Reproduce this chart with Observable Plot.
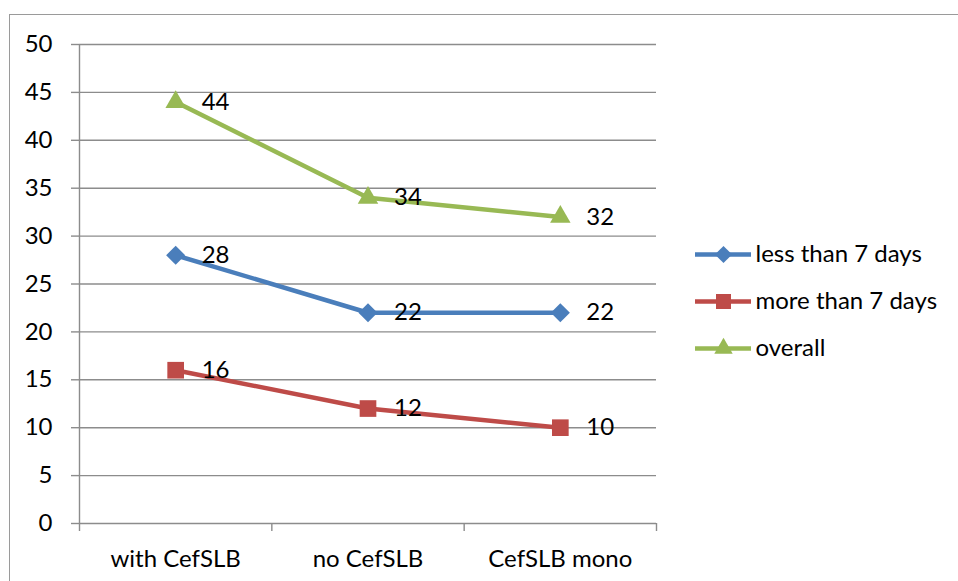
<!DOCTYPE html>
<html>
<head>
<meta charset="utf-8">
<script src="https://cdn.jsdelivr.net/npm/d3@7"></script>
<script src="https://cdn.jsdelivr.net/npm/@observablehq/plot@0.6"></script>
<style>
  html, body { margin: 0; padding: 0; background: #fff; overflow: hidden; }
  #wrap { position: relative; width: 958px; height: 581px; overflow: hidden; }
  #border { position: absolute; left: 9px; top: 14px; width: 1000px; height: 700px; border: 1.5px solid #9a9a9a; box-sizing: border-box; }
  #chart, #legend { position: absolute; left: 0; top: 0; }
  #legend { left: 690px; top: 230px; }
</style>
</head>
<body>
<div id="wrap">
  <div id="border"></div>
  <div id="chart"></div>
  <div id="legend"></div>
</div>
<script>
const categories = ["with CefSLB", "no CefSLB", "CefSLB mono"];
const lessThan7 = [28, 22, 22];
const moreThan7 = [16, 12, 10];
const overall = [44, 34, 32];
const seriesNames = ["less than 7 days", "more than 7 days", "overall"];
const seriesColors = ["#4A7EBB", "#BE4B48", "#98B954"];
const seriesSymbols = ["diamond2", "square", "triangle"];
const symbolSizes = [8.6, 9.4, 7.6];
const yTicks = [0, 5, 10, 15, 20, 25, 30, 35, 40, 45, 50];

const FONT = "Lato";
const FS = 24;
const grid = "#8c8c8c";

const seriesValues = [lessThan7, moreThan7, overall];
const rows = [];
seriesNames.forEach((s, si) => {
  categories.forEach((c, ci) => {
    rows.push({series: s, si, cat: c, pos: ci + 0.5, value: seriesValues[si][ci]});
  });
});

const chart = Plot.plot({
  width: 958,
  height: 581,
  marginLeft: 79,
  marginRight: 302,
  marginTop: 44,
  marginBottom: 58,
  style: {fontFamily: FONT, fontSize: FS + "px", color: "#000", background: "transparent"},
  x: {domain: [0, categories.length], axis: null},
  y: {domain: [0, 50], axis: null},
  marks: [
    Plot.ruleY(yTicks, {stroke: grid, strokeWidth: 1.4}),
    Plot.axisY(yTicks, {label: null, tickSize: 8, tickPadding: 19, stroke: grid, strokeWidth: 1.4, strokeOpacity: 1, tickFormat: d => String(d), fill: "#000", fontSize: FS}),
    Plot.ruleX([0], {stroke: grid, strokeWidth: 1.4}),
    Plot.axisX(d3.range(categories.length + 1), {label: null, tickSize: 8, stroke: grid, strokeWidth: 1.4, strokeOpacity: 1, tickFormat: () => ""}),
    Plot.axisX(categories.map((c, i) => i + 0.5), {label: null, tickSize: 0, tickPadding: 26, tickFormat: d => categories[d - 0.5], fill: "#000", fontSize: FS}),
    ...seriesNames.map((s, si) => Plot.line(rows.filter(r => r.si === si), {x: "pos", y: "value", stroke: seriesColors[si], strokeWidth: 4.5, strokeLinejoin: "round"})),
    ...seriesNames.map((s, si) => Plot.dot(rows.filter(r => r.si === si), {x: "pos", y: "value", symbol: seriesSymbols[si], r: symbolSizes[si], fill: seriesColors[si], stroke: "none"})),
    Plot.text(rows, {x: "pos", y: "value", text: d => String(d.value), textAnchor: "start", dx: 26, lineAnchor: "middle", fill: "#000", fontSize: FS})
  ]
});
document.getElementById("chart").appendChild(chart);

const legend = Plot.plot({
  width: 268,
  height: 140,
  margin: 0,
  style: {fontFamily: FONT, fontSize: FS + "px", color: "#000", background: "transparent"},
  x: {domain: [0, 1], range: [5, 61], axis: null},
  y: {type: "point", domain: seriesNames, range: [23, 118], padding: 0, axis: null},
  marks: [
    ...seriesNames.map((s, si) => Plot.ruleY([s], {y: d => d, x1: 0, x2: 1, stroke: seriesColors[si], strokeWidth: 4.5})),
    ...seriesNames.map((s, si) => Plot.dot([s], {x: () => 0.5, y: d => d, symbol: seriesSymbols[si], r: symbolSizes[si] * 0.9, fill: seriesColors[si], stroke: "none"})),
    Plot.text(seriesNames, {x: () => 1, y: d => d, text: d => d, textAnchor: "start", dx: 4, lineAnchor: "middle", fill: "#000", fontSize: FS})
  ]
});
document.getElementById("legend").appendChild(legend);
</script>
</body>
</html>
